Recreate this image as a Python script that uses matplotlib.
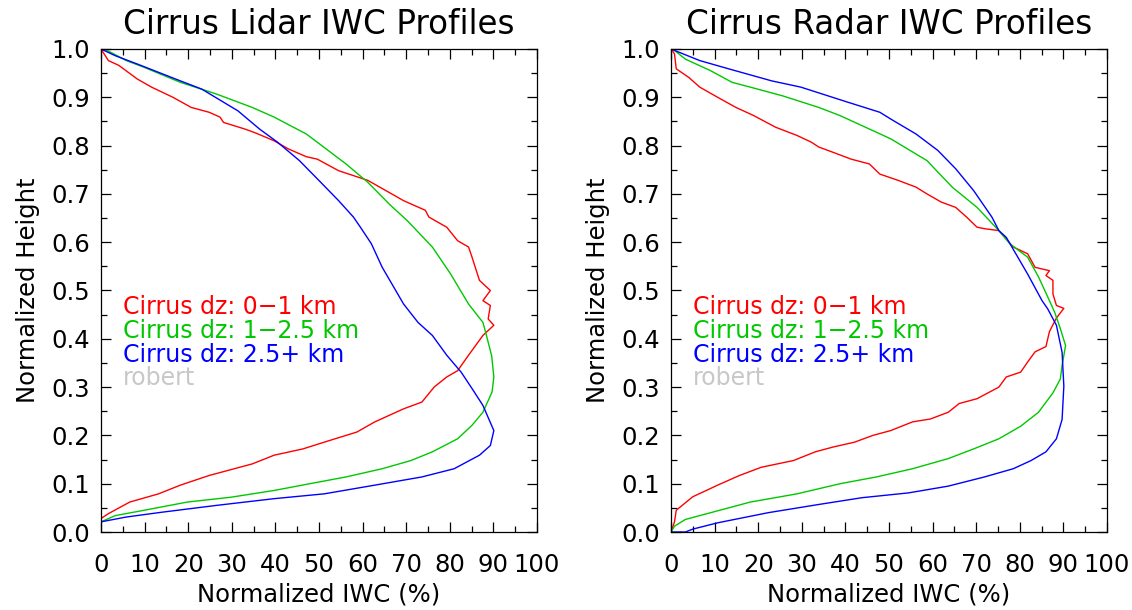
import numpy as np
import matplotlib
matplotlib.use('Agg')
import matplotlib.pyplot as plt
from matplotlib.ticker import MultipleLocator

# Lidar profiles (x = normalized IWC %, y = normalized height)
lidar_red_x = [0, 1.7, 4.1, 8.3, 11.6, 16.5, 20.7, 24.8, 27.3, 28.1, 33.1, 35.5, 39.7, 43.0, 47.1,
               49.6, 54.5, 61.2, 65.3, 69.4, 74.4, 75.2, 79.3, 81.8, 84.3, 85.1, 86.8, 89.3, 87.6,
               89.3, 88.8, 90.1, 87.6, 84.3, 81.8, 79.3, 76.4, 73.6, 69.4, 62.8, 58.7, 51.2, 46.3,
               39.7, 34.7, 24.8, 18.2, 13.2, 6.6, 1.7, 0]
lidar_red_y = [1.0, 0.976, 0.966, 0.938, 0.921, 0.90, 0.879, 0.869, 0.859, 0.848, 0.834, 0.826, 0.81,
               0.793, 0.777, 0.772, 0.748, 0.728, 0.707, 0.686, 0.666, 0.652, 0.631, 0.603, 0.590,
               0.569, 0.521, 0.50, 0.479, 0.469, 0.441, 0.428, 0.407, 0.366, 0.334, 0.321, 0.30,
               0.269, 0.255, 0.228, 0.207, 0.186, 0.172, 0.159, 0.141, 0.117, 0.097, 0.079, 0.062,
               0.038, 0.028]

lidar_green_x = [0.8, 5.8, 9.9, 18.2, 26.4, 34.7, 39.7, 47.1, 56.2, 61.2, 66.1, 70.2, 76.0, 80.2,
                 84.3, 87.6, 88.4, 89.6, 90.1, 89.7, 87.6, 85.1, 81.8, 76.0, 71.1, 64.5, 56.2, 47.9,
                 39.7, 29.8, 19.8, 9.9, 3.3, 0]
lidar_green_y = [1.0, 0.976, 0.962, 0.931, 0.907, 0.879, 0.859, 0.824, 0.762, 0.724, 0.679, 0.645,
                 0.590, 0.534, 0.472, 0.434, 0.407, 0.365, 0.321, 0.29, 0.248, 0.221, 0.193, 0.166,
                 0.148, 0.131, 0.114, 0.10, 0.086, 0.072, 0.062, 0.045, 0.034, 0.021]

lidar_blue_x = [0, 3.3, 8.3, 18.2, 23.1, 31.4, 36.4, 40.5, 45.5, 50.4, 54.5, 57.9, 59.5, 62.0, 64.5,
                69.4, 72.7, 76.0, 79.3, 82.6, 85.1, 87.6, 90.1, 89.3, 86.8, 81.0, 73.6, 62.8, 51.2,
                39.7, 26.4, 14.0, 5.8, 0, 0]
lidar_blue_y = [1.0, 0.986, 0.969, 0.934, 0.917, 0.872, 0.834, 0.807, 0.769, 0.724, 0.686, 0.652,
                0.631, 0.597, 0.548, 0.472, 0.434, 0.407, 0.366, 0.331, 0.297, 0.262, 0.210, 0.179,
                0.159, 0.131, 0.114, 0.097, 0.079, 0.069, 0.055, 0.041, 0.031, 0.021, 0.0]

# Radar profiles
radar_red_x = [0, 0.8, 1.2, 4.1, 6.6, 10.7, 14.9, 19.0, 24.0, 28.9, 32.2, 33.9, 37.2, 41.3, 45.5,
               47.9, 52.1, 56.2, 58.7, 62.0, 65.3, 67.8, 70.2, 71.9, 75.2, 78.5, 81.8, 83.5, 86.8,
               86.0, 87.6, 87.6, 88.4, 90.1, 88.4, 86.8, 86.0, 83.5, 81.8, 80.2, 76.9, 75.2, 70.2,
               66.1, 63.6, 59.5, 55.4, 50.4, 46.3, 42.1, 37.2, 33.1, 28.1, 20.7, 15.7, 10.7, 5.0,
               1.2, 0.8, 0]
radar_red_y = [1.0, 0.99, 0.959, 0.941, 0.921, 0.90, 0.879, 0.862, 0.838, 0.821, 0.807, 0.797, 0.786,
               0.772, 0.762, 0.741, 0.728, 0.714, 0.70, 0.683, 0.672, 0.652, 0.631, 0.628, 0.624,
               0.590, 0.576, 0.548, 0.541, 0.531, 0.521, 0.493, 0.469, 0.463, 0.443, 0.415, 0.384,
               0.373, 0.352, 0.331, 0.321, 0.30, 0.276, 0.266, 0.248, 0.234, 0.228, 0.210, 0.20,
               0.186, 0.176, 0.166, 0.148, 0.134, 0.117, 0.097, 0.073, 0.045, 0.021, 0]

radar_green_x = [0.4, 3.3, 9.1, 14.0, 18.2, 25.6, 33.9, 38.8, 46.3, 50.4, 58.7, 64.5, 70.2, 75.2,
                 77.7, 81.8, 84.3, 86.8, 88.0, 89.3, 90.5, 89.7, 89.3, 87.6, 84.3, 80.2, 75.2, 69.4,
                 63.6, 55.4, 47.1, 38.8, 28.9, 18.2, 9.1, 3.3, 0.8, 0]
radar_green_y = [1.0, 0.979, 0.955, 0.931, 0.921, 0.903, 0.879, 0.862, 0.831, 0.814, 0.769, 0.714,
                 0.672, 0.624, 0.597, 0.569, 0.528, 0.479, 0.455, 0.421, 0.386, 0.345, 0.317, 0.288,
                 0.248, 0.219, 0.193, 0.172, 0.152, 0.131, 0.114, 0.10, 0.079, 0.062, 0.040, 0.026,
                 0.012, 0]

radar_blue_x = [0, 6.6, 13.2, 23.1, 29.8, 40.5, 47.9, 50.4, 56.2, 61.2, 65.3, 69.4, 73.6, 75.2, 76.9,
                81.8, 85.1, 86.4, 88.4, 89.7, 90.1, 89.7, 88.4, 86.0, 82.6, 78.5, 71.9, 63.6, 54.5,
                43.8, 33.9, 22.3, 10.7, 5.0, 3.3, 0]
radar_blue_y = [1.0, 0.976, 0.959, 0.934, 0.921, 0.890, 0.869, 0.855, 0.824, 0.790, 0.752, 0.707,
                0.652, 0.624, 0.610, 0.534, 0.479, 0.462, 0.428, 0.372, 0.302, 0.233, 0.193, 0.166,
                0.148, 0.131, 0.114, 0.095, 0.081, 0.071, 0.057, 0.040, 0.019, 0.006, 0, 0]

titles = ['Cirrus Lidar IWC Profiles', 'Cirrus Radar IWC Profiles']
labels = ['Cirrus dz: 0\u22121 km', 'Cirrus dz: 1\u22122.5 km', 'Cirrus dz: 2.5+ km']
colors = ['#ff0000', '#00c800', '#0000ff']

panels = [
    [(lidar_red_x, lidar_red_y), (lidar_green_x, lidar_green_y), (lidar_blue_x, lidar_blue_y)],
    [(radar_red_x, radar_red_y), (radar_green_x, radar_green_y), (radar_blue_x, radar_blue_y)],
]

fig = plt.figure(figsize=(11.32, 6.10), dpi=100)
lefts = [101 / 1132, 671 / 1132]

for i, curves in enumerate(panels):
    ax = fig.add_axes([lefts[i], 78 / 610, 436 / 1132, 483 / 610])
    for (cx, cy), c in zip(curves, colors):
        ax.plot(cx, cy, color=c, lw=1.0)

    ax.set_xlim(0, 100)
    ax.set_ylim(0, 1.0)
    ax.xaxis.set_major_locator(MultipleLocator(10))
    ax.xaxis.set_minor_locator(MultipleLocator(5))
    ax.yaxis.set_major_locator(MultipleLocator(0.1))
    ax.yaxis.set_minor_locator(MultipleLocator(0.05))
    ax.yaxis.set_major_formatter(matplotlib.ticker.FormatStrFormatter('%.1f'))
    ax.tick_params(which='both', direction='in', top=True, right=True, width=0.9, colors='black')
    ax.tick_params(which='major', length=7.5)
    ax.tick_params(which='minor', length=4)
    ax.tick_params(axis='x', which='major', pad=15, labelsize=17.5)
    ax.tick_params(axis='y', which='major', pad=8, labelsize=17.5)
    for sp in ax.spines.values():
        sp.set_linewidth(0.9)

    ax.set_title(titles[i], fontsize=23.5, pad=11)
    ax.set_xlabel('Normalized IWC (%)', fontsize=17.5)
    ax.set_ylabel('Normalized Height', fontsize=17.5)
    ax.xaxis.set_label_coords(0.5, -0.105)
    ax.yaxis.set_label_coords(-0.14, 0.5)

    ty = [0.466, 0.416, 0.366]
    for lab, c, y in zip(labels, colors, ty):
        ax.text(5.0, y, lab, color=c, fontsize=17, va='center', ha='left')
    ax.text(5.0, 0.318, 'robert', color='#c8c8c8', fontsize=17, va='center', ha='left')

fig.savefig('out.png', dpi=100)
